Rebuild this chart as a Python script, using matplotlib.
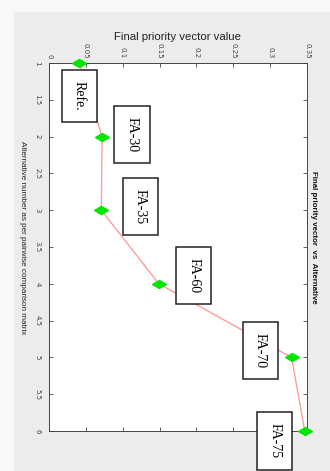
import matplotlib
matplotlib.use("Agg")
import matplotlib.pyplot as plt
from matplotlib.markers import MarkerStyle
from matplotlib.patches import Rectangle
from matplotlib.transforms import Affine2D

# data (chart is a MATLAB figure shown turned 90 degrees clockwise)
alternatives = [1, 2, 3, 4, 5, 6]
priority = [0.041, 0.072, 0.071, 0.149, 0.329, 0.347]
names = ["Refe.", "FA-30", "FA-35", "FA-60", "FA-70", "FA-75"]
value_ticks = [0, 0.05, 0.1, 0.15, 0.2, 0.25, 0.3, 0.35]
alt_ticks = [1, 1.5, 2, 2.5, 3, 3.5, 4, 4.5, 5, 5.5, 6]

fig = plt.figure(figsize=(3.3, 4.71), dpi=100, facecolor="#f8f8f8")
fig.patches.append(Rectangle((14 / 330, 0), 1, 1 - 12 / 471, transform=fig.transFigure,
                             facecolor="#ececec", edgecolor="none", zorder=-1))

ax = fig.add_axes([49 / 330, 1 - 431 / 471, 258 / 330, 368 / 471])
ax.set_facecolor("white")

# diamond, wider than tall after the turn
diamond = MarkerStyle("d", transform=Affine2D().rotate_deg(90))
ax.plot(priority, alternatives, color="#ff9c9c", lw=1, zorder=2)
ax.plot(priority, alternatives, ls="none", marker=diamond, ms=7.5,
        mfc="#00e600", mec="#00e600", clip_on=False, zorder=3)

# label boxes, offsets in pixels from each point
offsets = [(0, -33), (30, 2), (39, 4), (35, 8), (-31, 7), (-30, -10)]
for x, y, name, off in zip(priority, alternatives, names, offsets):
    ax.annotate(name, (x, y), xytext=off, textcoords="offset pixels",
                rotation=-90, ha="center", va="center", fontsize=10,
                family="Liberation Serif", annotation_clip=False,
                bbox=dict(boxstyle="square,pad=0.8", fc="white", ec="#222222", lw=1.1),
                zorder=4)

ax.set_xlim(0, 0.35)
ax.set_ylim(6, 1)
ax.set_xticks(value_ticks)
ax.set_xticklabels([f"{v:g}" for v in value_ticks], rotation=-90)
ax.set_yticks(alt_ticks)
ax.set_yticklabels([f"{v:g}" for v in alt_ticks], rotation=-90, va="center")
ax.xaxis.tick_top()
ax.tick_params(axis="both", direction="in", length=3, width=0.6, colors="#444444",
               labelsize=5, top=True, bottom=True, left=True, right=True,
               labeltop=True, labelbottom=False)
ax.tick_params(axis="y", pad=6)
for s in ax.spines.values():
    s.set_color("#444444")
    s.set_linewidth(0.7)

fig.text(178 / 330, 1 - 37 / 471, "Final priority vector value", ha="center", va="center",
         fontsize=8.2, family="Liberation Sans", color="#222222")
fig.text(22 / 330, 1 - 238 / 471, "Alternative number as per pairwise comparison matrix",
         rotation=-90, ha="center", va="center", fontsize=5.9,
         family="Liberation Sans", color="#222222")
fig.text(314 / 330, 1 - 237 / 471, "Final priority vector  vs  Alternative",
         rotation=-90, ha="center", va="center", fontsize=5.7, fontweight="bold",
         family="Liberation Sans", color="#111111")

fig.savefig("out.png", dpi=100, facecolor=fig.get_facecolor())
